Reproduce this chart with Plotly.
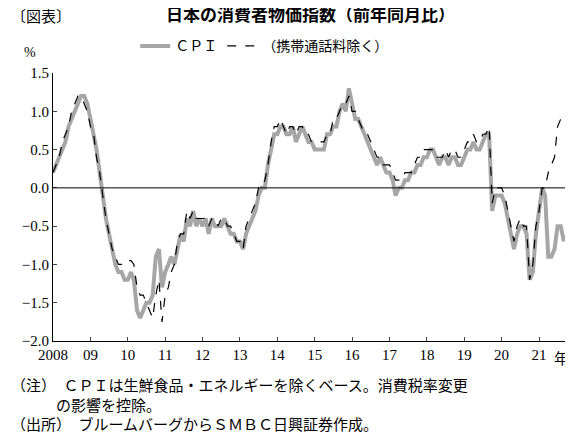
import pandas as pd
import plotly.graph_objects as go

# monthly, 2008-01 .. 2021-09, y/y %
cpi = [
    0.2, 0.3, 0.4, 0.5, 0.6, 0.8, 0.9, 1.0, 1.1, 1.2, 1.2, 1.1,        # 2008
    0.9, 0.7, 0.5, 0.2, -0.1, -0.4, -0.6, -0.8, -1.0, -1.1, -1.1, -1.2,  # 2009
    -1.2, -1.1, -1.2, -1.6, -1.7, -1.6, -1.5, -1.5, -1.4, -0.9, -0.8, -1.3,  # 2010
    -1.1, -1.0, -0.9, -1.0, -0.8, -0.6, -0.7, -0.4, -0.5, -0.3, -0.5, -0.4,  # 2011
    -0.5, -0.4, -0.6, -0.4, -0.5, -0.5, -0.5, -0.4, -0.5, -0.6, -0.6, -0.7,  # 2012
    -0.7, -0.8, -0.6, -0.5, -0.4, -0.3, -0.1, 0.0, 0.0, 0.3, 0.5, 0.7,   # 2013
    0.7, 0.8, 0.8, 0.7, 0.7, 0.8, 0.6, 0.7, 0.8, 0.7, 0.6, 0.6,          # 2014
    0.5, 0.5, 0.5, 0.5, 0.7, 0.7, 0.8, 0.8, 1.0, 1.1, 1.0, 1.3,          # 2015
    1.1, 0.9, 0.9, 0.8, 0.7, 0.6, 0.5, 0.4, 0.3, 0.4, 0.3, 0.2,          # 2016
    0.2, 0.1, -0.1, 0.0, 0.0, 0.1, 0.1, 0.2, 0.2, 0.3, 0.3, 0.4,         # 2017
    0.4, 0.5, 0.5, 0.4, 0.3, 0.4, 0.4, 0.3, 0.4, 0.4, 0.3, 0.3,          # 2018
    0.4, 0.5, 0.5, 0.6, 0.5, 0.5, 0.6, 0.7, 0.7, -0.3, -0.1, -0.1,       # 2019
    -0.1, -0.2, -0.4, -0.6, -0.8, -0.6, -0.5, -0.5, -0.6, -1.2, -1.1, -0.6,  # 2020
    -0.3, 0.0, -0.1, -0.9, -0.9, -0.8, -0.5, -0.5, -0.7,                 # 2021
]
ex_mobile = [
    0.2, 0.3, 0.4, 0.6, 0.7, 0.8, 1.0, 1.1, 1.2, 1.2, 1.1, 1.0,
    0.8, 0.7, 0.4, 0.2, -0.1, -0.4, -0.6, -0.8, -0.9, -1.0, -1.0, -0.95,
    -0.95, -0.95, -1.0, -1.3, -1.4, -1.4, -1.5, -1.6, -1.7, -1.4, -1.2, -1.75,
    -1.4, -1.3, -1.1, -1.0, -0.7, -0.6, -0.6, -0.3, -0.4, -0.3, -0.4, -0.4,
    -0.4, -0.4, -0.5, -0.4, -0.4, -0.5, -0.4, -0.4, -0.5, -0.5, -0.6, -0.7,
    -0.7, -0.8, -0.5, -0.4, -0.3, -0.2, 0.0, 0.0, 0.1, 0.3, 0.6, 0.8,
    0.8, 0.9, 0.8, 0.7, 0.8, 0.8, 0.7, 0.8, 0.8, 0.7, 0.7, 0.6,
    0.6, 0.6, 0.6, 0.6, 0.7, 0.7, 0.9, 0.9, 1.0, 1.1, 1.1, 1.2,
    1.0, 1.0, 0.9, 0.8, 0.7, 0.7, 0.6, 0.5, 0.4, 0.4, 0.3, 0.3,
    0.3, 0.2, 0.1, 0.1, 0.1, 0.2, 0.2, 0.2, 0.3, 0.4, 0.4, 0.5,
    0.5, 0.5, 0.5, 0.4, 0.4, 0.4, 0.5, 0.4, 0.5, 0.5, 0.4, 0.4,
    0.5, 0.6, 0.6, 0.7, 0.6, 0.6, 0.7, 0.7, 0.8, -0.2, 0.0, 0.0,
    0.0, -0.1, -0.3, -0.5, -0.7, -0.5, -0.4, -0.5, -0.5, -1.2, -1.0, -0.5,
    -0.3, 0.0, 0.0, 0.2, 0.3, 0.4, 0.8, 0.9, 0.95,
]
years = list(range(2008, 2022))
year_labels = ["2008"] + [f"{y % 100:02d}" for y in years[1:]]

dates = pd.date_range("2008-01-01", periods=len(cpi), freq="MS")
serif = "Liberation Serif, Noto Sans CJK JP"

fig = go.Figure()
fig.add_trace(go.Scatter(x=dates, y=cpi, mode="lines", name="ＣＰＩ",
                         line=dict(color="#a6a6a6", width=4)))
fig.add_trace(go.Scatter(x=dates, y=ex_mobile, mode="lines", name="（携帯通話料除く）",
                         line=dict(color="black", width=1.2, dash="dash")))
fig.add_hline(y=0, line=dict(color="black", width=1))

fig.update_layout(
    width=573, height=435, paper_bgcolor="white", plot_bgcolor="white",
    margin=dict(l=45, r=14, t=65, b=102, autoexpand=False),
    font=dict(family=serif, size=15, color="black"),
    showlegend=True,
    legend=dict(orientation="h", x=0.16, y=1.04, xanchor="left", yanchor="bottom",
                font=dict(size=14), bgcolor="rgba(0,0,0,0)"),
)
fig.update_xaxes(range=["2008-01-01", "2021-10-01"],
                 tickvals=[pd.Timestamp(f"{y}-01-01") for y in years], ticktext=year_labels,
                 ticks="inside", ticklen=4, showline=True, linecolor="black",
                 showgrid=False, tickfont=dict(size=15))
fig.update_yaxes(range=[-2.0, 1.5], dtick=0.5, tickformat=".1f", ticks="inside", ticklen=4,
                 showline=True, linecolor="black", showgrid=False, zeroline=False,
                 tickfont=dict(size=15))

fig.add_annotation(text="〔図表〕", xref="paper", yref="paper", x=-0.085, y=1.17,
                   xanchor="left", yanchor="bottom", showarrow=False, font=dict(size=15))
fig.add_annotation(text="<b>日本の消費者物価指数（前年同月比）</b>", xref="paper", yref="paper",
                   x=0.5, y=1.17, xanchor="center", yanchor="bottom", showarrow=False,
                   font=dict(size=17))
fig.add_annotation(text="%", xref="paper", yref="paper", x=-0.045, y=1.04,
                   xanchor="center", yanchor="bottom", showarrow=False, font=dict(size=14))
fig.add_annotation(text="年", xref="paper", yref="paper", x=0.99, y=-0.03,
                   xanchor="center", yanchor="top", showarrow=False, font=dict(size=15))
notes = ("（注）　ＣＰＩは生鮮食品・エネルギーを除くベース。消費税率変更<br>"
         "　　　の影響を控除。<br>"
         "（出所）　ブルームバーグからＳＭＢＣ日興証券作成。")
fig.add_annotation(text=notes, xref="paper", yref="paper", x=-0.085, y=-0.13,
                   xanchor="left", yanchor="top", align="left", showarrow=False,
                   font=dict(size=15))

fig.write_html("out.html")
